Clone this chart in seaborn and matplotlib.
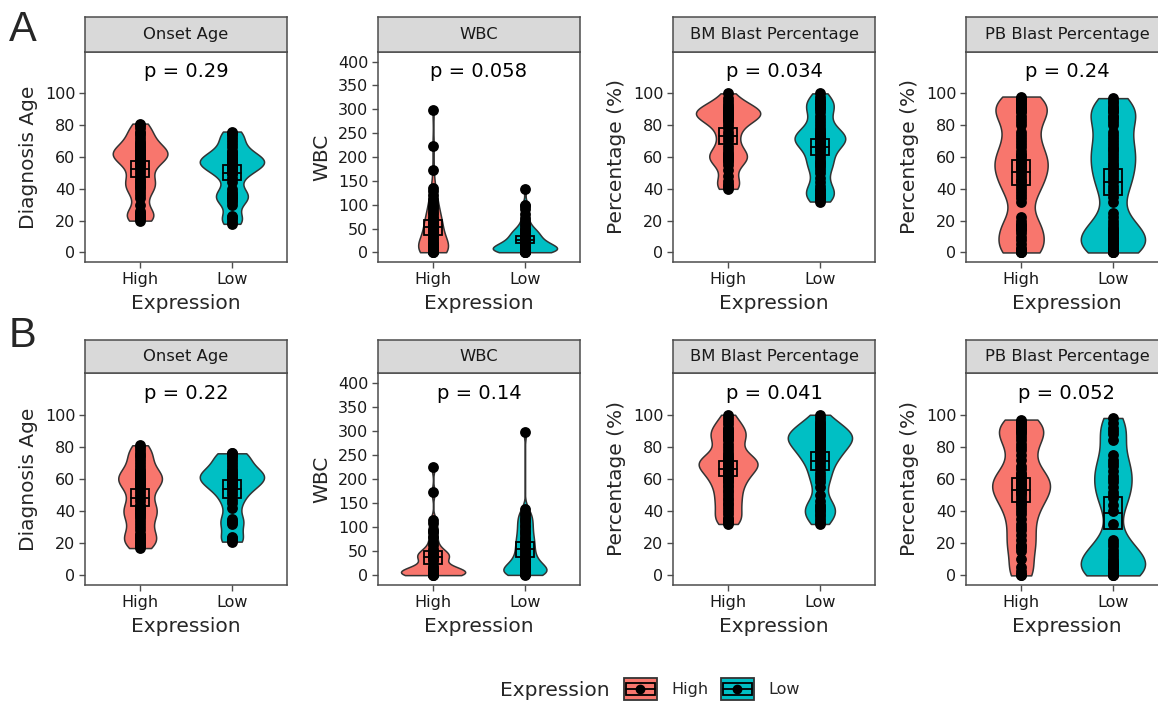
import numpy as np
import pandas as pd
import matplotlib
matplotlib.use('Agg')
import matplotlib.pyplot as plt
from matplotlib.patches import Rectangle, Patch
from matplotlib.lines import Line2D
import seaborn as sns

sns.set_style('white')
plt.rcParams['font.family'] = ['DejaVu Sans']

groups = ['High', 'Low']
colors = {'High': '#F8766D', 'Low': '#00BFC4'}

titles = ['Onset Age', 'WBC', 'BM Blast Percentage', 'PB Blast Percentage']
ylabels = ['Diagnosis Age', 'WBC', 'Percentage (%)', 'Percentage (%)']
pvals_a = ['0.29', '0.058', '0.034', '0.24']
pvals_b = ['0.22', '0.14', '0.041', '0.052']

# ---- row A values ----
a_age_high = [20, 21, 22, 22, 23, 24, 25, 26, 30, 34, 36, 38, 40, 41, 42, 43, 44, 45, 46, 48,
              50, 52, 54, 55, 56, 57, 58, 59, 60, 60, 61, 61, 62, 62, 63, 63, 64, 64, 65, 66,
              67, 68, 69, 70, 72, 74, 75, 76, 78, 80, 81]
a_age_low = [18, 19, 21, 22, 23, 30, 32, 33, 34, 35, 36, 37, 38, 40, 44, 47, 49, 50, 51, 52,
             53, 54, 55, 55, 56, 56, 57, 57, 58, 58, 59, 59, 60, 61, 62, 63, 64, 66, 68, 70,
             72, 74, 75, 76]
a_wbc_high = [0.5, 1, 1, 2, 2, 3, 3, 4, 5, 5, 6, 7, 8, 9, 10, 11, 12, 13, 14, 15, 16, 18, 20,
              24, 28, 32, 36, 40, 44, 48, 50, 52, 55, 58, 60, 62, 65, 68, 70, 75, 80, 85, 90,
              95, 100, 105, 112, 120, 128, 135, 172, 224, 298]
a_wbc_low = [0.5, 1, 1, 1.5, 2, 2, 2.5, 3, 3, 3.5, 4, 4, 4.5, 5, 5, 5.5, 6, 6, 7, 7, 8, 8, 9,
             10, 11, 12, 13, 14, 15, 16, 17, 18, 19, 20, 21, 22, 24, 25, 27, 28, 30, 32, 33,
             35, 36, 38, 40, 42, 43, 45, 46, 48, 50, 55, 60, 65, 72, 80, 90, 98, 100, 132]
a_bm_high = [40, 41, 42, 43, 45, 48, 52, 55, 57, 58, 59, 60, 60, 61, 62, 63, 65, 67, 70, 72,
             74, 76, 78, 80, 82, 83, 84, 85, 85, 86, 86, 87, 87, 88, 88, 89, 89, 90, 90, 91,
             92, 93, 95, 97, 100]
a_bm_low = [32, 33, 34, 35, 36, 37, 38, 39, 40, 42, 44, 47, 50, 52, 54, 55, 56, 57, 58, 60,
            62, 64, 65, 66, 67, 68, 69, 70, 70, 71, 71, 72, 72, 73, 73, 74, 74, 75, 76, 77,
            78, 80, 82, 84, 86, 88, 90, 91, 92, 93, 94, 95, 96, 98, 100]
a_pb_high = [0, 0, 0, 0, 1, 2, 3, 5, 8, 10, 12, 14, 15, 16, 17, 18, 20, 22, 32, 34, 36, 38,
             40, 42, 44, 45, 46, 48, 50, 52, 53, 54, 55, 56, 57, 58, 60, 61, 62, 64, 66, 68,
             70, 72, 74, 76, 80, 82, 84, 86, 88, 89, 90, 90, 91, 92, 93, 94, 95, 96, 97, 98]
a_pb_low = [0, 0, 0, 0, 1, 2, 3, 4, 5, 6, 7, 8, 9, 10, 11, 12, 13, 14, 15, 16, 18, 20, 22,
            25, 32, 35, 38, 40, 42, 44, 46, 48, 50, 52, 54, 55, 56, 58, 60, 62, 64, 65, 66,
            68, 70, 72, 74, 76, 80, 82, 84, 85, 86, 88, 89, 90, 91, 92, 94, 95, 97]

# ---- row B values ----
b_age_high = [17, 18, 19, 20, 21, 22, 23, 24, 25, 26, 28, 30, 32, 34, 36, 37, 38, 39, 40, 41,
              42, 43, 44, 46, 48, 50, 52, 54, 55, 56, 57, 58, 59, 60, 60, 61, 61, 62, 63, 64,
              65, 66, 68, 70, 72, 74, 75, 76, 78, 80, 81]
b_age_low = [21, 22, 23, 24, 32, 33, 34, 35, 42, 45, 47, 50, 52, 54, 55, 56, 57, 58, 59, 60,
             61, 62, 62, 63, 63, 64, 65, 66, 68, 70, 72, 74, 75, 76, 76]
b_wbc_high = [0.5, 1, 1, 2, 2, 3, 3, 4, 4, 5, 5, 6, 6, 7, 7, 8, 8, 9, 10, 11, 12, 14, 16, 20,
              30, 34, 36, 38, 40, 41, 42, 43, 44, 46, 50, 55, 62, 70, 80, 90, 95, 108, 115,
              172, 224]
b_wbc_low = [1, 2, 2, 3, 4, 5, 6, 7, 8, 9, 10, 11, 12, 13, 15, 18, 20, 22, 25, 28, 30, 33,
             36, 40, 44, 48, 52, 56, 60, 64, 68, 72, 76, 80, 85, 90, 95, 100, 105, 110, 115,
             120, 125, 130, 138, 298]
b_bm_high = [32, 33, 34, 35, 36, 38, 40, 42, 44, 45, 47, 48, 50, 52, 53, 55, 56, 58, 59, 60,
             61, 62, 63, 64, 65, 66, 67, 68, 68, 69, 69, 70, 70, 71, 71, 72, 72, 73, 74, 75,
             76, 78, 80, 82, 84, 85, 86, 87, 88, 89, 90, 91, 92, 94, 96, 98, 100]
b_bm_low = [32, 33, 35, 37, 38, 40, 41, 42, 43, 44, 46, 50, 55, 58, 60, 62, 64, 66, 68, 70,
            72, 73, 74, 75, 76, 77, 78, 79, 80, 81, 82, 83, 84, 84, 85, 85, 86, 86, 87, 87,
            88, 88, 89, 90, 91, 92, 93, 94, 95, 96, 98, 100]
b_pb_high = [0, 0, 1, 3, 5, 10, 15, 17, 18, 19, 22, 25, 28, 30, 32, 35, 38, 40, 42, 44, 45,
             46, 48, 50, 51, 52, 53, 54, 55, 56, 57, 58, 59, 60, 61, 62, 63, 64, 66, 68, 72,
             75, 78, 80, 82, 84, 86, 88, 89, 90, 91, 92, 93, 94, 95, 96, 97]
b_pb_low = [0, 0, 0, 1, 2, 3, 4, 5, 6, 7, 8, 9, 10, 12, 14, 16, 18, 20, 22, 32, 40, 44, 48,
            50, 52, 55, 58, 60, 62, 65, 68, 70, 72, 75, 84, 88, 90, 92, 95, 98]

row_a = [(a_age_high, a_age_low), (a_wbc_high, a_wbc_low), (a_bm_high, a_bm_low), (a_pb_high, a_pb_low)]
row_b = [(b_age_high, b_age_low), (b_wbc_high, b_wbc_low), (b_bm_high, b_bm_low), (b_pb_high, b_pb_low)]

pct_ticks = [0, 20, 40, 60, 80, 100]
wbc_ticks = [0, 50, 100, 150, 200, 250, 300, 350, 400]
yticks = [pct_ticks, wbc_ticks, pct_ticks, pct_ticks]
ylims = [(-6, 126), (-20, 420), (-6, 126), (-6, 126)]
bws_a = [0.6, 0.8, 0.6, 0.6]
bws_b = [0.6, 0.5, 0.6, 0.6]

W, H = 1158, 704
fig = plt.figure(figsize=(W / 100, H / 100), dpi=100)
edge = '#4d4d4d'


def px_axes(left, top, width, height):
    return fig.add_axes([left / W, 1 - (top + height) / H, width / W, height / H])


def draw_panel(left, strip_top, strip_h, top, height, i, high, low, p, bw):
    ax = px_axes(left, top, 202, height)
    df = pd.DataFrame({'Expression': ['High'] * len(high) + ['Low'] * len(low),
                       'value': high + low})
    sns.violinplot(data=df, x='Expression', y='value', hue='Expression', order=groups,
                   hue_order=groups, palette=colors, saturation=1, cut=0, width=0.7,
                   density_norm='area', common_norm=True, inner=None, linewidth=1.1,
                   linecolor='#333333', bw_adjust=bw, legend=False, ax=ax)
    # mean with 95% CI crossbar
    for k, g in enumerate(groups):
        v = df.loc[df['Expression'] == g, 'value'].to_numpy()
        m = v.mean()
        ci = 1.96 * v.std(ddof=1) / np.sqrt(len(v))
        ax.add_patch(Rectangle((k - 0.1, m - ci), 0.2, 2 * ci, fill=False,
                               edgecolor='black', lw=1.3, zorder=3))
        ax.plot([k - 0.1, k + 0.1], [m, m], color='black', lw=1.3, zorder=3)
    sns.stripplot(data=df, x='Expression', y='value', order=groups, color='black',
                  jitter=False, size=7.8, ax=ax, zorder=4)
    ax.set_xlim(-0.6, 1.6)
    ax.set_ylim(*ylims[i])
    ax.set_yticks(yticks[i])
    ax.set_xlabel('Expression', fontsize=14.5, labelpad=5)
    ax.set_ylabel(ylabels[i], fontsize=14.5, labelpad=5)
    ax.tick_params(axis='both', direction='out', length=4, width=1, color=edge,
                   labelsize=11.5, labelcolor='#1a1a1a', pad=3)
    ax.tick_params(left=True, bottom=True)
    for s in ax.spines.values():
        s.set_visible(True)
        s.set_color(edge)
        s.set_linewidth(1.1)
    ax.text(0.5, 0.905, 'p = ' + p, transform=ax.transAxes, ha='center', va='center',
            fontsize=14, color='black')

    st = px_axes(left, strip_top, 202, strip_h)
    st.set_facecolor('#D9D9D9')
    st.set_xticks([])
    st.set_yticks([])
    for s in st.spines.values():
        s.set_color(edge)
        s.set_linewidth(1.1)
    st.text(0.5, 0.5, titles[i], ha='center', va='center', fontsize=11.8, color='#1a1a1a',
            transform=st.transAxes)


lefts = [85, 378, 673, 966]
for i in range(4):
    draw_panel(lefts[i], 17, 35, 52, 210, i, row_a[i][0], row_a[i][1], pvals_a[i], bws_a[i])
    draw_panel(lefts[i], 340, 33, 373, 212, i, row_b[i][0], row_b[i][1], pvals_b[i], bws_b[i])

fig.text(9 / W, 1 - 30 / H, 'A', fontsize=30, va='center', ha='left', family='Liberation Sans')
fig.text(9 / W, 1 - 336 / H, 'B', fontsize=30, va='center', ha='left', family='Liberation Sans')


class KeyHandler:
    """violin fill + crossbar + point, like the ggplot legend key"""
    def legend_artist(self, legend, orig_handle, fontsize, handlebox):
        x0, y0 = -handlebox.xdescent, -handlebox.ydescent
        w, h = handlebox.width, handlebox.height
        tr = handlebox.get_transform()
        handlebox.add_artist(Rectangle((x0, y0), w, h, facecolor=orig_handle.get_facecolor(),
                                       edgecolor='#333333', lw=1.3, transform=tr))
        handlebox.add_artist(Rectangle((x0 + 1.5, y0 + 0.25 * h), w - 3, 0.5 * h, fill=False,
                                       edgecolor='black', lw=1.3, transform=tr))
        handlebox.add_artist(Line2D([x0 + 1.5, x0 + w - 1.5], [y0 + h / 2] * 2, color='black',
                                    lw=1.3, transform=tr))
        handlebox.add_artist(Line2D([x0 + w / 2], [y0 + h / 2], color='black', marker='o',
                                    markersize=6, transform=tr))
        return handlebox


# legend
fig.text(500 / W, 1 - 691 / H, 'Expression', fontsize=14.5, va='center', ha='left')
handles = [Patch(facecolor=colors[g]) for g in groups]
fig.legend(handles, groups, handler_map={Patch: KeyHandler()},
           loc='center left', bbox_to_anchor=(624 / W, 1 - 689 / H), ncol=2, frameon=False,
           fontsize=11.5, handlelength=2.05, handleheight=1.8, columnspacing=0.8,
           handletextpad=0.9, borderaxespad=0, borderpad=0)

fig.savefig('out.png', dpi=100)
